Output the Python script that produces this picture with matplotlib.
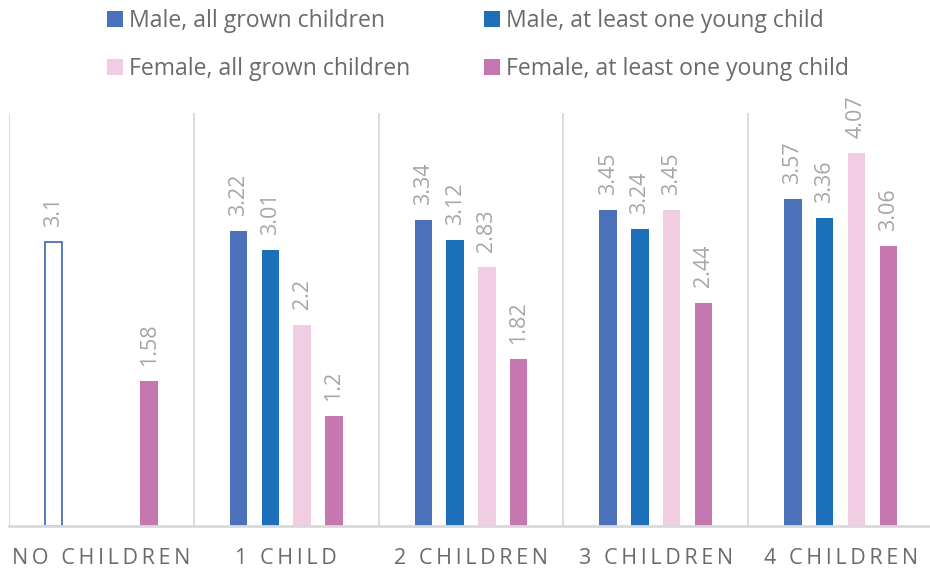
import numpy as np
import matplotlib.pyplot as plt
from matplotlib.patches import Patch

plt.rcParams["font.family"] = ["Open Sans", "DejaVu Sans"]

categories = ["NO CHILDREN", "1 CHILD", "2 CHILDREN", "3 CHILDREN", "4 CHILDREN"]
series_names = [
    "Male, all grown children",
    "Male, at least one young child",
    "Female, all grown children",
    "Female, at least one young child",
]
male_grown = [3.10, 3.22, 3.34, 3.45, 3.57]
male_young = [np.nan, 3.01, 3.12, 3.24, 3.36]
female_grown = [np.nan, 2.20, 2.83, 3.45, 4.07]
female_young = [1.58, 1.20, 1.82, 2.44, 3.06]

COLORS = ["#4a71b9", "#1b70b9", "#f0cde2", "#c777b0"]
GRID = "#d9d9d9"
LABEL_GRAY = "#a6a6a6"
TEXT_GRAY = "#6b6b6b"


def spaced(s):
    # widen the letter spacing of the category names
    return "\u2009".join(s)


fig = plt.figure(figsize=(9.30, 5.73), dpi=100)
ax = fig.add_axes([9 / 930, 47 / 573, 924 / 930, 413 / 573])

x = np.arange(len(categories))
step = 0.172
width = 0.095
all_series = [male_grown, male_young, female_grown, female_young]

for j, vals in enumerate(all_series):
    pos = x + (j - 1.5) * step
    bars = ax.bar(pos, vals, width, color=COLORS[j], zorder=2)
    for b, v in zip(bars, vals):
        if np.isnan(v):
            continue
        ax.annotate(
            f"{v:g}",
            (b.get_x() + b.get_width() / 2, v),
            xytext=(0, 11),
            textcoords="offset points",
            rotation=90,
            ha="center",
            va="bottom",
            fontsize=15.5,
            color=LABEL_GRAY,
        )
    if j == 0:
        # the no-children bar is shown as an outline only
        bars[0].set_facecolor("white")
        bars[0].set_edgecolor(COLORS[0])
        bars[0].set_linewidth(1.3)

for b in np.arange(-0.5, 5, 1.0):
    ax.axvline(b, color=GRID, linewidth=1.3, zorder=1)

ax.set_xlim(-0.5, 4.5)
ax.set_ylim(0, 4.51)
ax.set_yticks([])
for side in ["top", "left", "right"]:
    ax.spines[side].set_visible(False)
ax.spines["bottom"].set_color(GRID)
ax.spines["bottom"].set_linewidth(2)
ax.spines["bottom"].set_zorder(3)

ax.set_xticks(x)
ax.set_xticklabels([spaced(c) for c in categories], fontsize=15.5, color=TEXT_GRAY)
ax.tick_params(axis="x", length=0, pad=16)

handles = [Patch(facecolor=c) for c in COLORS]
order = [0, 2, 1, 3]
fig.legend(
    [handles[i] for i in order],
    [series_names[i] for i in order],
    ncol=2,
    loc="upper left",
    bbox_to_anchor=(98 / 930, 1.0),
    borderaxespad=0,
    frameon=False,
    fontsize=16.6,
    labelcolor=TEXT_GRAY,
    handlelength=0.7,
    handleheight=0.7,
    handletextpad=0.25,
    columnspacing=3.2,
    labelspacing=1.05,
)

fig.savefig("out.png", dpi=100)
